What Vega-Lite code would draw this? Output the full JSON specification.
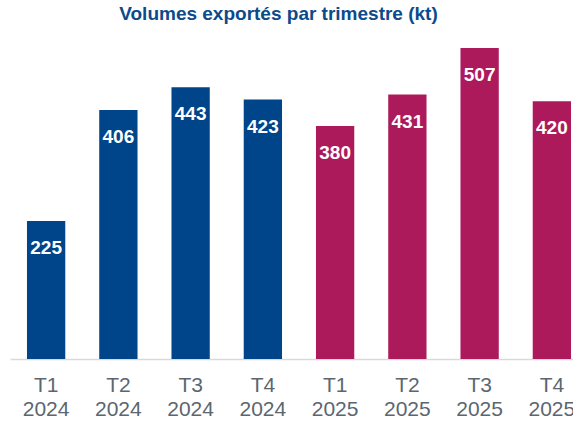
{
  "$schema": "https://vega.github.io/schema/vega-lite/v6.json",
  "autosize": "none",
  "width": 563,
  "height": 311,
  "padding": {"left": 10, "top": 48, "right": 0, "bottom": 64},
  "background": "white",
  "title": {
    "text": "Volumes exportés par trimestre (kt)",
    "font": "Liberation Sans",
    "fontSize": 19,
    "fontWeight": "bold",
    "color": "#0b4a8b",
    "anchor": "middle",
    "baseline": "alphabetic",
    "offset": 9,
    "dx": -13
  },
  "data": {
    "values": [
      {"quarter": "T1 2024", "year": "2024", "value": 225},
      {"quarter": "T2 2024", "year": "2024", "value": 406},
      {"quarter": "T3 2024", "year": "2024", "value": 443},
      {"quarter": "T4 2024", "year": "2024", "value": 423},
      {"quarter": "T1 2025", "year": "2025", "value": 380},
      {"quarter": "T2 2025", "year": "2025", "value": 431},
      {"quarter": "T3 2025", "year": "2025", "value": 507},
      {"quarter": "T4 2025", "year": "2025", "value": 420}
    ]
  },
  "encoding": {
    "x": {
      "field": "quarter",
      "type": "nominal",
      "sort": null,
      "scale": {"range": [0, 578], "paddingInner": 0.47, "paddingOuter": 0.235},
      "axis": {
        "title": null,
        "labelAngle": 0,
        "labelExpr": "split(datum.value, ' ')",
        "labelFont": "Liberation Sans",
        "labelFontSize": 21,
        "labelColor": "#5b6670",
        "labelLineHeight": 24,
        "labelPadding": 15,
        "ticks": false,
        "domainColor": "#d9d9d9",
        "domainWidth": 1.5,
        "grid": false
      }
    },
    "y": {
      "field": "value",
      "type": "quantitative",
      "scale": {"domain": [0, 507], "nice": false, "zero": true},
      "axis": null
    }
  },
  "layer": [
    {
      "mark": {"type": "bar"},
      "encoding": {
        "color": {
          "field": "year",
          "type": "nominal",
          "scale": {"domain": ["2024", "2025"], "range": ["#00448a", "#ad1a5c"]},
          "legend": null
        }
      }
    },
    {
      "mark": {
        "type": "text",
        "baseline": "alphabetic",
        "dy": 33,
        "font": "Liberation Sans",
        "fontSize": 19,
        "fontWeight": "bold",
        "color": "white"
      },
      "encoding": {
        "text": {"field": "value", "type": "quantitative"}
      }
    }
  ],
  "config": {"view": {"stroke": null}}
}
